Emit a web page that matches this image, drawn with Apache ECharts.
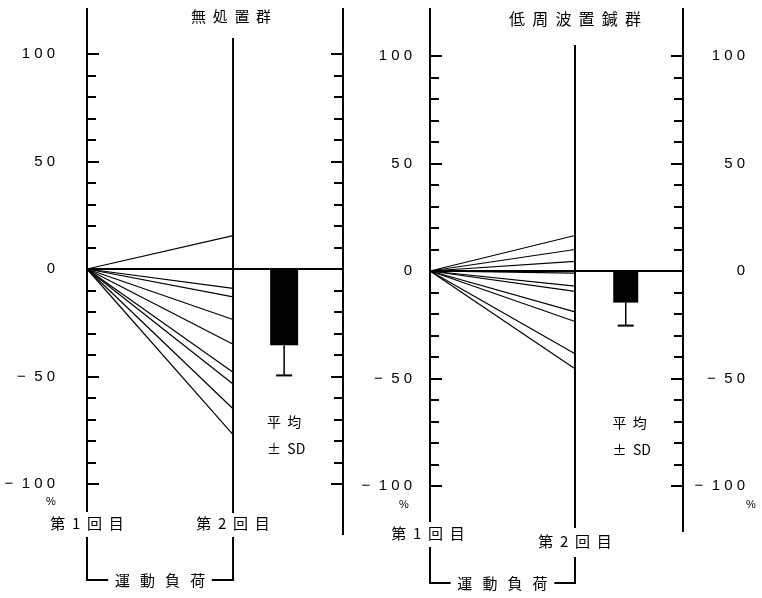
<!DOCTYPE html>
<html>
<head>
<meta charset="utf-8">
<script src="https://cdn.jsdelivr.net/npm/echarts@6/dist/echarts.min.js"></script>
<style>html,body{margin:0;background:#fff}#main{width:762px;height:598px}</style>
</head>
<body>
<div id="main"></div>
<script>
// 無処置群 : 各例の変化率 (%)
var ctrlChange = [15.5, -9, -13, -23.5, -35, -48, -53.5, -65, -77];
var ctrlMean = -35.5, ctrlSD = 14;
// 低周波置鍼群 : 各例の変化率 (%)
var acuChange = [16.5, 10, 4.5, -1, -7, -9.5, -19, -23.5, -38.5, -45.5];
var acuMean = -14.7, acuSD = 10.7;
// 目盛ラベル
var tickLabels = [100, 50, 0, -50, -100];
var titles = ['無  処  置  群', '低  周  波  置  鍼  群'];

var black = '#000';
var cjk = '"Noto Sans CJK JP", sans-serif';
var chart = echarts.init(document.getElementById('main'));

function fmt(v) {
	if (tickLabels.indexOf(v) < 0) return '';
	var s = String(Math.abs(v)).split('').join(' ');
	return v < 0 ? '−  ' + s : s;
}

function yAx(g, pos, show, margin, align) {
	return {
		gridIndex: g, type: 'value', position: pos,
		min: -100, max: 100, interval: 50,
		axisLine: {show: true, onZero: false, lineStyle: {color: black, width: 2}},
		axisTick: {show: true, inside: true, length: 12, lineStyle: {color: black, width: 2}},
		minorTick: {show: true, splitNumber: 5, length: 9, lineStyle: {color: black, width: 2}},
		axisLabel: {show: show, margin: margin, align: align, formatter: fmt,
			color: black, fontSize: 15, fontFamily: 'Liberation Sans'},
		splitLine: {show: false}
	};
}

// 個々の変化 (第1回目 -> 第2回目)
function fan(vals, g) {
	return vals.map(function (v) {
		return {
			type: 'line', xAxisIndex: g, yAxisIndex: g * 2,
			data: [[0, 0], [1, v]], symbol: 'none', silent: true,
			lineStyle: {color: black, width: 1.2}
		};
	});
}

// 平均 ± SD
function meanBar(g, mean, sd, w) {
	return {
		type: 'custom', xAxisIndex: g, yAxisIndex: g * 2, silent: true, clip: false,
		data: [[1.35, mean, sd]],
		renderItem: function (params, api) {
			var x = api.value(0), m = api.value(1), s = api.value(2);
			var p0 = api.coord([x, 0]), p1 = api.coord([x, m]), p2 = api.coord([x, m - s]);
			return {type: 'group', children: [
				{type: 'rect', shape: {x: p0[0] - w / 2, y: p0[1], width: w, height: p1[1] - p0[1]}, style: {fill: black}},
				{type: 'line', shape: {x1: p1[0], y1: p1[1], x2: p2[0], y2: p2[1]}, style: {stroke: black, lineWidth: 1.5}},
				{type: 'line', shape: {x1: p2[0] - 8, y1: p2[1], x2: p2[0] + 8, y2: p2[1]}, style: {stroke: black, lineWidth: 2}}
			]};
		}
	};
}

function zeroLine(g) {
	return {
		type: 'line', xAxisIndex: g, yAxisIndex: g * 2, data: [], silent: true,
		markLine: {silent: true, symbol: 'none', label: {show: false},
			lineStyle: {color: black, width: 2, type: 'solid'}, data: [{yAxis: 0}]}
	};
}

var series = [].concat(fan(ctrlChange, 0), fan(acuChange, 1),
	[meanBar(0, ctrlMean, ctrlSD, 28), meanBar(1, acuMean, acuSD, 25), zeroLine(0), zeroLine(1)]);

chart.setOption({
	animation: false,
	grid: [
		{left: 87, width: 256, top: 54, height: 430},
		{left: 430, width: 253, top: 56, height: 430}
	],
	xAxis: [
		{gridIndex: 0, type: 'value', min: 0, max: 1.753, show: false},
		{gridIndex: 1, type: 'value', min: 0, max: 1.745, show: false}
	],
	yAxis: [
		yAx(0, 'left', true, 32, 'right'),
		yAx(0, 'right', false, 8, 'left'),
		yAx(1, 'left', true, 18, 'right'),
		yAx(1, 'right', true, 62, 'right')
	],
	series: series
});

// 軸の延長・中央線・見出し
var L0 = chart.convertToPixel({xAxisIndex: 0}, 0), M0 = chart.convertToPixel({xAxisIndex: 0}, 1), R0 = 343;
var L1 = chart.convertToPixel({xAxisIndex: 1}, 0), M1 = chart.convertToPixel({xAxisIndex: 1}, 1), R1 = 683;
var B0 = chart.convertToPixel({xAxisIndex: 0}, 1.35), B1 = chart.convertToPixel({xAxisIndex: 1}, 1.35);

function vline(x, y1, y2) {
	return {type: 'line', shape: {x1: x, y1: y1, x2: x, y2: y2}, style: {stroke: black, lineWidth: 2}};
}
function txt(x, y, s, size, fam, align) {
	return {type: 'text', x: x, y: y, style: {text: s, fill: black, font: size + 'px ' + (fam || cjk),
		textAlign: align || 'center', textVerticalAlign: 'middle'}};
}
function bracket(xa, xb, ya, yb, y) {
	return [
		{type: 'polyline', shape: {points: [[xa, ya], [xa, y], [xb, y], [xb, yb]]}, style: {stroke: black, lineWidth: 2, fill: null}},
		{type: 'text', x: (xa + xb) / 2, y: y, style: {text: '  運   動   負   荷  ', fill: black, font: '15px ' + cjk,
			textAlign: 'center', textVerticalAlign: 'middle', backgroundColor: '#fff'}}
	];
}

var g = [
	vline(L0, 8, 55), vline(L0, 483, 512),
	vline(R0, 8, 55), vline(R0, 483, 535),
	vline(M0, 38, 513),
	vline(L1, 8, 57), vline(L1, 485, 522),
	vline(R1, 8, 57), vline(R1, 485, 532),
	vline(M1, 45, 528),
	txt(M0 - 2, 16, titles[0], 15),
	txt(M1, 19, titles[1], 16),
	txt(L0, 523, '第  1  回  目', 15),
	txt(M0, 523, '第  2  回  目', 15),
	txt(L1 - 2, 533, '第  1  回  目', 15),
	txt(M1, 541, '第  2  回  目', 15),
	txt(B0, 422, '平  均', 14),
	txt(B0 + 2, 449, '±  SD', 14),
	txt(B1 + 4, 423, '平  均', 14),
	txt(B1 + 6, 450, '±  SD', 14),
	txt(51, 502, '%', 11, 'Liberation Sans'),
	txt(404, 505, '%', 11, 'Liberation Sans'),
	txt(751, 505, '%', 11, 'Liberation Sans')
].concat(bracket(L0, M0, 537, 537, 580), bracket(L1, M1, 547, 557, 583));

chart.setOption({graphic: g});
</script>
</body>
</html>
